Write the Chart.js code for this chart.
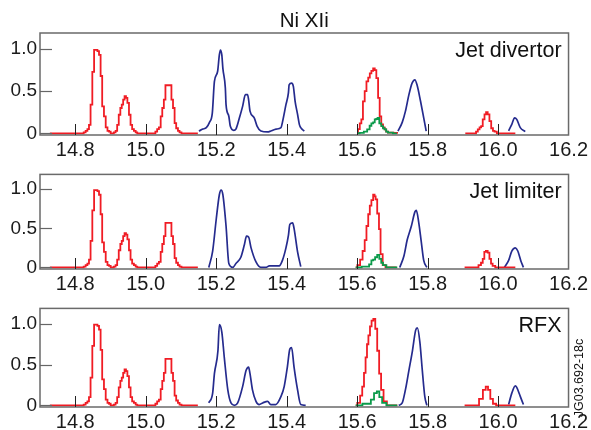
<!DOCTYPE html>
<html>
<head>
<meta charset="utf-8">
<script src="https://cdn.jsdelivr.net/npm/chart.js@4.4.1/dist/chart.umd.min.js"></script>
<style>
  html, body { margin: 0; padding: 0; background: #fff; overflow: hidden; }
  #wrap { position: relative; width: 591px; height: 430px; }
  canvas { position: absolute; left: 0; }
</style>
</head>
<body>
<div id="wrap">
  <canvas id="c1" width="591" height="160" style="top:0px"></canvas>
  <canvas id="c2" width="591" height="134" style="top:160px"></canvas>
  <canvas id="c3" width="591" height="136" style="top:294px"></canvas>
</div>
<script>
// axes
const xTicks = [14.8, 15.0, 15.2, 15.4, 15.6, 15.8, 16.0, 16.2];
const yTicks = [0, 0.5, 1.0];
const yTickLabels = ['0', '0.5', '1.0'];
const panelNames = ['Jet divertor', 'Jet limiter', 'RFX'];
const titleText = 'Ni XIi';
const figCode = 'JG03.692-18c';

// red lines 14.8 - 15.1 (same in all three panels)
const redLeft = [[14.728,0],[14.821,0],[14.827,0.01],[14.832,0.03],[14.837,0.05],[14.841,0.1],[14.846,0.34],
  [14.851,0.73],[14.856,0.99],[14.861,0.99],[14.865,0.975],[14.870,0.93],[14.874,0.68],[14.879,0.32],[14.884,0.2],
  [14.889,0.07],[14.894,0.03],[14.898,0.02],[14.903,0],[14.907,0],[14.912,0.01],[14.917,0.03],[14.921,0.1],
  [14.926,0.22],[14.930,0.3],[14.934,0.34],[14.938,0.4],[14.942,0.44],[14.946,0.42],[14.950,0.36],[14.955,0.22],
  [14.959,0.1],[14.964,0.05],[14.969,0.03],[14.974,0.01],[14.978,0],[15.025,0],[15.030,0.02],[15.035,0.05],
  [15.040,0.07],[15.045,0.2],[15.049,0.3],[15.054,0.4],[15.058,0.57],[15.063,0.57],[15.067,0.57],[15.071,0.57],
  [15.075,0.4],[15.080,0.3],[15.084,0.12],[15.089,0.06],[15.094,0.03],[15.098,0.01],[15.105,0],[15.148,0]];

// Jet divertor
const divBlueA = [[15.151,0.027],[15.162,0.05],[15.172,0.067],[15.181,0.13],[15.189,0.24],[15.195,0.615],[15.204,0.733],
  [15.209,0.93],[15.212,0.988],[15.216,0.93],[15.219,0.77],[15.226,0.537],[15.228,0.341],[15.236,0.2],[15.240,0.086],
  [15.250,0.035],[15.256,0.05],[15.266,0.184],[15.275,0.32],[15.283,0.459],[15.289,0.459],[15.292,0.4],[15.296,0.263],
  [15.308,0.184],[15.316,0.086],[15.327,0.027],[15.346,0.016],[15.355,0.027],[15.370,0.05],[15.384,0.067],[15.388,0.13],
  [15.398,0.34],[15.405,0.48],[15.407,0.576],[15.414,0.596],[15.419,0.557],[15.424,0.38],[15.431,0.224],[15.436,0.106],
  [15.440,0.067],[15.450,0.027]];
const divBlueB = [[15.716,0.027],[15.728,0.13],[15.737,0.26],[15.747,0.459],[15.756,0.596],[15.764,0.635],[15.770,0.576],
  [15.780,0.38],[15.789,0.184],[15.796,0.027]];
const divBlueC = [[16.030,0.03],[16.039,0.106],[16.047,0.184],[16.053,0.165],[16.063,0.067],[16.077,0.02]];
const divRedB = [[15.600,0.008],[15.605,0.05],[15.610,0.118],[15.614,0.165],[15.619,0.38],[15.624,0.5],[15.629,0.615],
  [15.634,0.66],[15.638,0.71],[15.643,0.74],[15.648,0.77],[15.652,0.75],[15.657,0.655],[15.662,0.42],[15.666,0.2],
  [15.671,0.106],[15.676,0.07],[15.680,0.047],[15.685,0.02],[15.690,0.008],[15.716,0.005]];
const divGreen = [[15.600,0],[15.614,0.005],[15.624,0.02],[15.633,0.047],[15.638,0.09],[15.643,0.118],[15.648,0.13],
  [15.652,0.165],[15.656,0.17],[15.660,0.184],[15.666,0.118],[15.671,0.086],[15.676,0.06],[15.680,0.047],[15.685,0.02],
  [15.690,0.008],[15.713,0]];
const divRedC = [[15.907,0],[15.935,0],[15.940,0.02],[15.945,0.047],[15.950,0.07],[15.954,0.086],[15.959,0.165],
  [15.964,0.224],[15.968,0.25],[15.973,0.224],[15.978,0.145],[15.983,0.06],[15.988,0.03],[15.992,0.02],[16.001,0],[16.049,0]];

// Jet limiter
const limBlueA = [[15.179,0],[15.190,0.21],[15.200,0.61],[15.209,0.93],[15.214,0.99],[15.219,0.93],[15.228,0.53],
  [15.236,0.05],[15.247,0],[15.256,0.05],[15.270,0.13],[15.280,0.29],[15.286,0.4],[15.292,0.39],[15.299,0.25],
  [15.313,0.07],[15.327,0],[15.341,0],[15.351,0.02],[15.379,0.02],[15.388,0.09],[15.398,0.25],[15.405,0.41],
  [15.409,0.55],[15.417,0.57],[15.421,0.5],[15.431,0.2],[15.440,0.01]];
const limBlueB = [[15.721,0],[15.733,0.15],[15.742,0.35],[15.754,0.53],[15.764,0.71],[15.768,0.73],[15.775,0.57],
  [15.782,0.33],[15.789,0.09],[15.798,0]];
const limBlueC = [[16.018,0],[16.030,0.09],[16.039,0.21],[16.049,0.25],[16.056,0.21],[16.065,0.08],[16.072,0]];
const limRedB = [[15.596,0],[15.605,0.03],[15.612,0.1],[15.619,0.21],[15.624,0.35],[15.629,0.53],[15.634,0.68],
  [15.638,0.79],[15.643,0.86],[15.648,0.93],[15.651,0.91],[15.654,0.87],[15.660,0.69],[15.664,0.49],[15.669,0.17],
  [15.676,0.03],[15.685,0],[15.712,0]];
const limGreen = [[15.596,0],[15.630,0.01],[15.638,0.04],[15.643,0.09],[15.648,0.1],[15.654,0.13],[15.660,0.16],
  [15.666,0.11],[15.671,0.06],[15.676,0.03],[15.690,0],[15.714,0]];
const limRedC = [[15.905,0],[15.940,0],[15.949,0.03],[15.954,0.06],[15.959,0.11],[15.963,0.2],[15.968,0.21],
  [15.973,0.19],[15.978,0.11],[15.982,0.05],[15.987,0.02],[15.997,0],[16.049,0]];

// RFX
const rfxBlueA = [[15.179,0.03],[15.190,0.15],[15.195,0.39],[15.205,0.67],[15.209,0.99],[15.216,0.9],[15.223,0.59],
  [15.233,0.19],[15.242,0.03],[15.252,0],[15.261,0.03],[15.275,0.23],[15.285,0.43],[15.292,0.47],[15.296,0.39],
  [15.303,0.19],[15.313,0.05],[15.322,0.01],[15.332,0.03],[15.346,0.05],[15.355,0.01],[15.369,0.01],[15.384,0.11],
  [15.393,0.23],[15.402,0.47],[15.409,0.69],[15.414,0.71],[15.421,0.47],[15.431,0.19],[15.440,0.01],[15.454,0]];
const rfxBlueB = [[15.718,0],[15.728,0.03],[15.737,0.19],[15.747,0.43],[15.757,0.67],[15.766,0.92],[15.771,0.95],
  [15.778,0.78],[15.785,0.43],[15.792,0.11],[15.798,0]];
const rfxBlueC = [[16.030,0.01],[16.039,0.15],[16.049,0.24],[16.053,0.22],[16.063,0.11],[16.072,0.01]];
const rfxRedB = [[15.596,0],[15.605,0.03],[15.612,0.12],[15.617,0.23],[15.622,0.4],[15.626,0.59],[15.630,0.75],
  [15.634,0.86],[15.639,0.97],[15.643,1.04],[15.649,1.06],[15.654,0.94],[15.660,0.67],[15.665,0.39],[15.671,0.19],
  [15.679,0.05],[15.690,0],[15.714,0]];
const rfxGreen = [[15.596,0],[15.634,0.02],[15.644,0.07],[15.652,0.15],[15.660,0.17],[15.666,0.1],[15.676,0.03],
  [15.690,0],[15.714,0]];
const rfxRedC = [[15.905,0],[15.940,0],[15.952,0.08],[15.962,0.19],[15.968,0.23],[15.975,0.19],[15.981,0.08],
  [15.990,0.02],[15.999,0],[16.049,0]];

const RED = '#f01c24', BLUE = '#252b8e', GREEN = '#0b9a4a';
const FONT = '"Liberation Sans", Arial, Helvetica, sans-serif';

function line(points, color, stepped) {
  return {
    data: points.map(p => ({x: p[0], y: p[1]})),
    borderColor: color,
    borderWidth: stepped ? 1.8 : 1.7,
    pointRadius: 0,
    fill: false,
    stepped: stepped ? 'middle' : false,
    tension: stepped ? 0 : 0.25,
    cubicInterpolationMode: stepped ? 'default' : 'monotone'
  };
}

const framePlugin = {
  id: 'frame',
  afterDraw(chart, args, opts) {
    const ctx = chart.ctx, a = chart.chartArea;
    const xs = chart.scales.x, ys = chart.scales.y;
    ctx.save();
    ctx.strokeStyle = '#6a6a6a';
    ctx.lineWidth = 1.5;
    ctx.strokeRect(a.left, a.top, a.right - a.left, a.bottom - a.top);
    ctx.strokeStyle = '#222';
    ctx.lineWidth = 1;
    xTicks.forEach(v => {
      if (v >= 16.2) return;
      const px = Math.round(xs.getPixelForValue(v)) + 0.5;
      ctx.beginPath(); ctx.moveTo(px, a.bottom); ctx.lineTo(px, a.bottom - 11); ctx.stroke();
    });
    ctx.strokeStyle = '#666';
    ctx.lineWidth = 1.2;
    yTicks.forEach(v => {
      const py = Math.round(ys.getPixelForValue(v)) + 0.5;
      ctx.beginPath(); ctx.moveTo(a.left, py); ctx.lineTo(a.left + 12, py); ctx.stroke();
    });
    ctx.fillStyle = '#111';
    ctx.font = '21.5px ' + FONT;
    ctx.textAlign = 'right';
    ctx.textBaseline = 'alphabetic';
    ctx.fillText(opts.label, a.right - 7, a.top + 23.5);
    if (opts.title) {
      ctx.textAlign = 'center';
      ctx.font = '20.5px ' + FONT;
      ctx.fillText(opts.title, (a.left + a.right) / 2, 27);
    }
    if (opts.code) {
      ctx.translate(580, 84);
      ctx.rotate(-Math.PI / 2);
      ctx.font = '12.5px ' + FONT;
      ctx.textAlign = 'center';
      ctx.textBaseline = 'middle';
      ctx.fillText(opts.code, 0, 0);
    }
    ctx.restore();
  }
};

function makePanel(id, datasets, padTop, xHeight, frameOpts) {
  return new Chart(document.getElementById(id), {
    type: 'line',
    data: { datasets: datasets },
    options: {
      responsive: false,
      animation: false,
      devicePixelRatio: 1,
      layout: { padding: { top: padTop, right: 22, left: 0, bottom: 0 } },
      plugins: { legend: { display: false }, tooltip: { enabled: false }, frame: frameOpts },
      scales: {
        x: {
          type: 'linear', min: 14.7, max: 16.2,
          afterBuildTicks: s => { s.ticks = xTicks.map(v => ({value: v})); },
          afterFit: s => { s.height = xHeight; },
          grid: { display: false, drawTicks: false },
          border: { display: false },
          ticks: { color: '#1a1a1a', font: { family: FONT, size: 20 }, padding: 3, maxRotation: 0,
                   callback: v => v.toFixed(1) }
        },
        y: {
          type: 'linear', min: -0.02, max: 1.19,
          afterBuildTicks: s => { s.ticks = yTicks.map(v => ({value: v})); },
          afterFit: s => { s.width = 40; },
          grid: { display: false, drawTicks: false },
          border: { display: false },
          ticks: { color: '#1a1a1a', font: { family: FONT, size: 19 }, padding: 3,
                   callback: v => yTickLabels[yTicks.indexOf(v)] }
        }
      }
    },
    plugins: [framePlugin]
  });
}

// first dataset is painted last (on top)
makePanel('c1', [
  line(divGreen, GREEN, true), line(redLeft, RED, true), line(divRedB, RED, true), line(divRedC, RED, true),
  line(divBlueA, BLUE, false), line(divBlueB, BLUE, false), line(divBlueC, BLUE, false)
], 33, 25, { label: panelNames[0], title: titleText });

makePanel('c2', [
  line(limGreen, GREEN, true), line(redLeft, RED, true), line(limRedB, RED, true), line(limRedC, RED, true),
  line(limBlueA, BLUE, false), line(limBlueB, BLUE, false), line(limBlueC, BLUE, false)
], 9, 25, { label: panelNames[1] });

makePanel('c3', [
  line(rfxGreen, GREEN, true), line(redLeft, RED, true), line(rfxRedB, RED, true), line(rfxRedC, RED, true),
  line(rfxBlueA, BLUE, false), line(rfxBlueB, BLUE, false), line(rfxBlueC, BLUE, false)
], 12, 23, { label: panelNames[2], code: figCode });
</script>
</body>
</html>
